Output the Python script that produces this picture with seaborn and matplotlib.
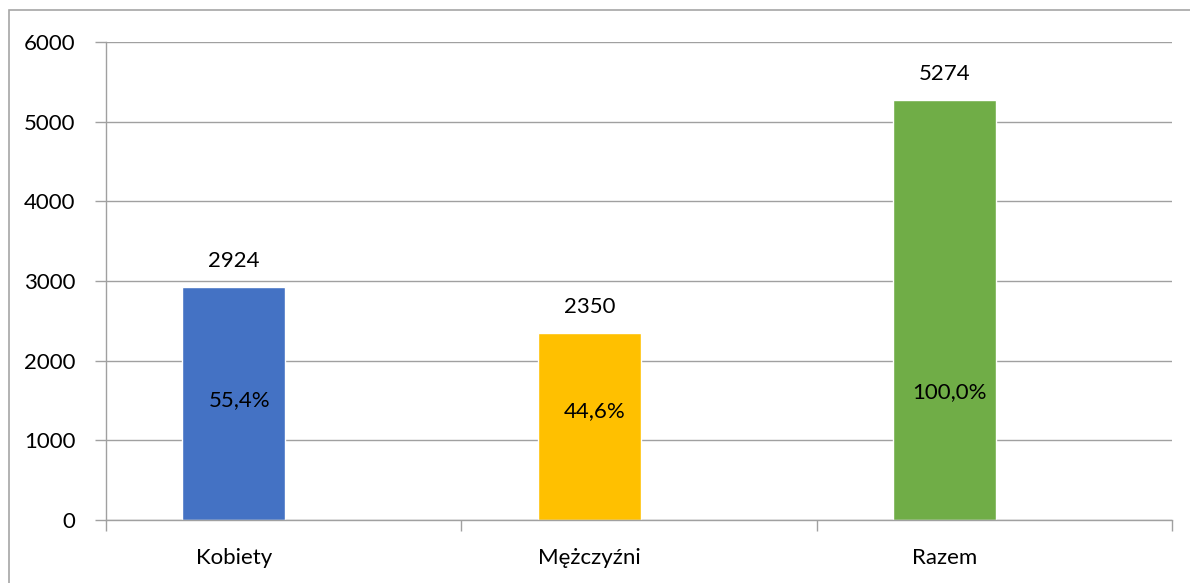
import matplotlib.pyplot as plt
import seaborn as sns
from matplotlib.patches import Rectangle

categories = ['Kobiety', 'Mężczyźni', 'Razem']
values = [2924, 2350, 5274]
shares = ['55,4%', '44,6%', '100,0%']
share_label_y = [1510, 1370, 1610]
bar_colors = ['#4472C4', '#FFC000', '#70AD47']
y_ticks = [0, 1000, 2000, 3000, 4000, 5000, 6000]

sns.set_style('white')
plt.rcParams['font.family'] = ['Lato', 'DejaVu Sans']
plt.rcParams['text.color'] = 'black'

fig = plt.figure(figsize=(11.9, 5.83), dpi=100)
fig.patches.append(Rectangle((9 / 1190, -0.1), 1.2, 1 - 10 / 583 + 0.1,
                             transform=fig.transFigure, fill=False,
                             edgecolor='#a6a6a6', linewidth=1.2))
ax = fig.add_axes([106 / 1190, 1 - 520 / 583, 1066 / 1190, 478 / 583])

sns.barplot(x=categories, y=values, hue=categories, palette=bar_colors,
            width=0.29, legend=False, ax=ax, saturation=1)

# bars sit left of the middle of each category slot, as in the original
left = -0.36
ax.set_xlim(left, left + 3)
ax.set_ylim(0, 6000)
ax.set_yticks(y_ticks)
ax.set_yticklabels([str(t) for t in y_ticks], fontsize=16)
ax.yaxis.grid(True, color='#a0a0a0', linewidth=1)
ax.set_axisbelow(True)

ax.set_xticks([left + k for k in range(4)])
ax.set_xticklabels([])
ax.set_xticks([0, 1, 2], minor=True)
ax.set_xticklabels(categories, minor=True, fontsize=16)
ax.tick_params(axis='x', which='major', direction='out', length=8,
               color='#a0a0a0', width=1, bottom=True)
ax.tick_params(axis='x', which='minor', length=0, pad=20, labelcolor='black')
ax.tick_params(axis='y', direction='out', length=8, color='#a0a0a0',
               width=1, left=True, pad=14, labelcolor='black')
ax.set_xlabel('')
ax.set_ylabel('')

for side in ['top', 'right']:
    ax.spines[side].set_visible(False)
for side in ['left', 'bottom']:
    ax.spines[side].set_color('#a0a0a0')
    ax.spines[side].set_linewidth(1)

for i, v in enumerate(values):
    ax.text(i, v + 200, str(v), ha='center', va='bottom', fontsize=16)
    ax.text(i + 0.015, share_label_y[i], shares[i], ha='center',
            va='center', fontsize=16)

fig.savefig('out.png', dpi=100)
